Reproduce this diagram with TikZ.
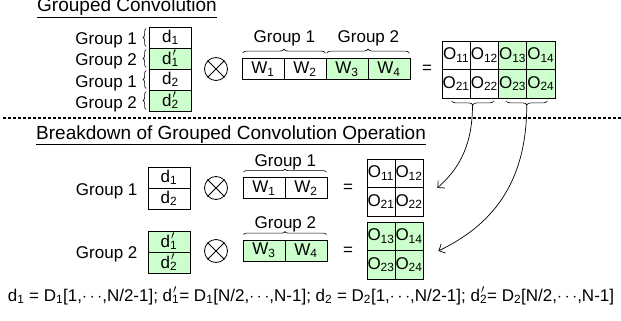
\documentclass[tikz,border=0pt]{standalone}
\usepackage{fontspec}
\setmainfont{Liberation Sans}
\usetikzlibrary{decorations.pathreplacing,arrows.meta}
\definecolor{lgreen}{RGB}{204,255,204}
\newcommand{\dsub}[1]{d\textsubscript{#1}}
\newcommand{\dprm}[1]{d\rlap{\kern1pt\raisebox{0.08em}{$'$}}\textsubscript{#1}}
\begin{document}
\begin{tikzpicture}[x=1pt,y=-1pt,
		font=\fontsize{17}{20}\selectfont,
		cell/.style={draw=black, line width=0.8pt, minimum width=42pt, minimum height=21pt, inner sep=0pt},
		gcell/.style={cell, fill=lgreen},
		ocell/.style={draw=black, line width=0.8pt, minimum width=28.25pt, minimum height=28.5pt, inner sep=0pt},
		gocell/.style={ocell, fill=lgreen},
		otimes/.style={draw=black, line width=0.8pt, circle, minimum size=23pt, inner sep=0pt},
		gbrace/.style={decorate, decoration={brace, amplitude=4pt}, line width=0.6pt},
		grplbl/.style={inner sep=0pt, anchor=base east},
		toplbl/.style={inner sep=0pt, anchor=base},
		title/.style={font=\fontsize{19}{22}\selectfont, inner sep=0pt, anchor=base west},
		flow/.style={-{Straight Barb[length=5pt,width=10pt]}, line width=0.7pt}]
	\useasboundingbox (0,0) rectangle (621,321);

	% grouped convolution
	\node[title] (ttop) at (37,11.5) {\underline{Grouped Convolution}};
	\node[cell]  (d1)  at (170.5,37.5)  {\dsub{1}};
	\node[gcell] (d1p) at (170.5,58.5)  {\dprm{1}};
	\node[cell]  (d2)  at (170.5,79.5)  {\dsub{2}};
	\node[gcell] (d2p) at (170.5,100.5) {\dprm{2}};
	\foreach \c/\g in {d1/1,d1p/2,d2/1,d2p/2}{
		\draw[gbrace, decoration={amplitude=3pt}] ([xshift=-3pt,yshift=2pt]\c.south west) -- ([xshift=-3pt,yshift=-2pt]\c.north west);
		\node[grplbl] (lbl-\c) at ([xshift=-12pt,yshift=-7.5pt]\c.west) {Group \g};
	}
	\node[otimes] (x0) at (216,69) {};
	\draw[line width=0.8pt] (x0.north west) -- (x0.south east);
	\draw[line width=0.8pt] (x0.north east) -- (x0.south west);
	\node[cell]  (w1) at (263,69) {W\textsubscript{1}};
	\node[cell]  (w2) at (305,69) {W\textsubscript{2}};
	\node[gcell] (w3) at (347,69) {W\textsubscript{3}};
	\node[gcell] (w4) at (389,69) {W\textsubscript{4}};
	\draw[gbrace] ([xshift=1pt,yshift=5pt]w1.north west) -- ([xshift=-1pt,yshift=5pt]w2.north east);
	\draw[gbrace] ([xshift=1pt,yshift=5pt]w3.north west) -- ([xshift=-1pt,yshift=5pt]w4.north east);
	\node[toplbl] (gw1) at ([yshift=15.5pt]w1.north east) {Group 1};
	\node[toplbl] (gw2) at ([yshift=15.5pt]w3.north east) {Group 2};
	\node (eq0) at (427,69) {=};
	\foreach \r in {1,2}{
		\foreach \c in {1,2}
			\node[ocell] (o\r\c) at ({442+28.25*(\c-0.5)},{41+28.5*(\r-0.5)}) {O\textsubscript{\r\c}};
		\foreach \c in {3,4}
			\node[gocell] (o\r\c) at ({442+28.25*(\c-0.5)},{41+28.5*(\r-0.5)}) {O\textsubscript{\r\c}};
	}
	\draw[gbrace] ([xshift=-5pt,yshift=-2.5pt]o22.south east) -- ([xshift=10pt,yshift=-2.5pt]o21.south west);
	\draw[gbrace] ([xshift=-8pt,yshift=-2.5pt]o24.south east) -- ([xshift=8pt,yshift=-2.5pt]o23.south west);
	\coordinate (t1) at (472.5,105);
	\coordinate (t2) at (526.75,105);

	\draw[line width=1.2pt, dash pattern=on 3pt off 2pt] (3,118) -- (621,118);

	% breakdown
	\node[title] (tbot) at (36,139) {\underline{Breakdown of Grouped Convolution Operation}};
	\node[cell]  (a1) at (169,177.5) {\dsub{1}};
	\node[cell]  (a2) at (169,198.5) {\dsub{2}};
	\node[gcell] (b1) at (169,241.5) {\dprm{1}};
	\node[gcell] (b2) at (169,262.5) {\dprm{2}};
	\node[grplbl] (la) at ([xshift=-10pt,yshift=-7pt]a1.south west) {Group 1};
	\node[grplbl] (lb) at ([xshift=-10pt,yshift=-6pt]b1.south west) {Group 2};

	\node[otimes] (xa) at (216,188) {};
	\draw[line width=0.8pt] (xa.north west) -- (xa.south east);
	\draw[line width=0.8pt] (xa.north east) -- (xa.south west);
	\node[otimes] (xb) at (216,251) {};
	\draw[line width=0.8pt] (xb.north west) -- (xb.south east);
	\draw[line width=0.8pt] (xb.north east) -- (xb.south west);

	\node[cell]  (wa1) at (264,188)   {W\textsubscript{1}};
	\node[cell]  (wa2) at (306,188)   {W\textsubscript{2}};
	\node[gcell] (wb3) at (264,250.5) {W\textsubscript{3}};
	\node[gcell] (wb4) at (306,250.5) {W\textsubscript{4}};
	\draw[gbrace, decoration={amplitude=3pt}] ([xshift=1pt,yshift=5pt]wa1.north west) -- ([xshift=-1pt,yshift=5pt]wa2.north east);
	\draw[gbrace, decoration={amplitude=3pt}] ([xshift=1pt,yshift=5pt]wb3.north west) -- ([xshift=-1pt,yshift=5pt]wb4.north east);
	\node[toplbl] (gwa) at ([yshift=11pt]wa1.north east) {Group 1};
	\node[toplbl] (gwb) at ([yshift=11pt]wb3.north east) {Group 2};

	\node (eqa) at (348,188) {=};
	\node (eqb) at (348,251) {=};
	\foreach \r in {1,2}{
		\foreach \c in {1,2}
			\node[ocell, minimum width=28pt] (o\r\c a) at ({367+28*(\c-0.5)},{159+28.5*(\r-0.5)}) {O\textsubscript{\r\c}};
		\foreach \c/\k in {1/3,2/4}
			\node[gocell, minimum width=28pt] (o\r\k b) at ({367+28*(\c-0.5)},{222+28.5*(\r-0.5)}) {O\textsubscript{\r\k}};
	}
	\draw[flow] (t1) .. controls +(0,45) and +(18,-16) .. ([xshift=14pt]o12a.south east);
	\draw[flow] (t2) .. controls +(0,80) and +(52,-25) .. ([xshift=15pt]o14b.south east);

	\node[anchor=base, inner sep=0pt] (defs) at (311,301) {\dsub{1} = D\textsubscript{1}[1,\ensuremath{\cdots},N/2-1]; \dprm{1}= D\textsubscript{1}[N/2,\ensuremath{\cdots},N-1]; \dsub{2} = D\textsubscript{2}[1,\ensuremath{\cdots},N/2-1]; \dprm{2}= D\textsubscript{2}[N/2,\ensuremath{\cdots},N-1]};
\end{tikzpicture}
\end{document}
